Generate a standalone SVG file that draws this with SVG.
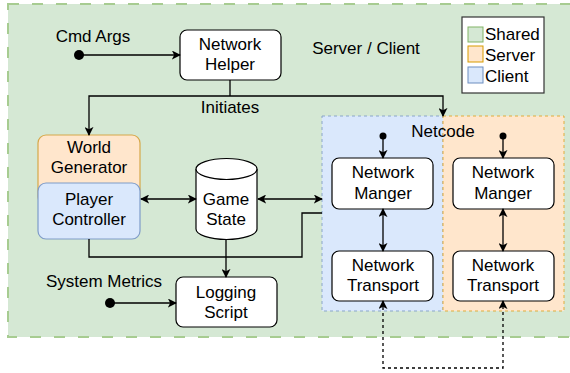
<svg xmlns="http://www.w3.org/2000/svg" width="570" height="373" viewBox="0 0 570 373">
<defs>
<marker id="arr" viewBox="0 0 10 10" refX="9" refY="5" markerWidth="9" markerHeight="9" markerUnits="userSpaceOnUse" orient="auto-start-reverse">
<path d="M0,0 L10,5 L0,10 L2.5,5 z" fill="#000"/>
</marker>
<style>
text{font-family:"Liberation Sans",Arial,sans-serif;font-size:17px;fill:#000;text-anchor:middle}
.box{fill:#fff;stroke:#000;stroke-width:1.2}
.ln{fill:none;stroke:#000;stroke-width:1.3}
.dot{fill:#000}
</style>
</defs>
<rect width="570" height="373" fill="#fff"/>
<g id="shared-area">
<rect x="8" y="4" width="570" height="333" fill="#d5e8d4" stroke="#a7cc91" stroke-width="2" stroke-dasharray="11 13"/>
<text x="366" y="54">Server / Client</text>
</g>
<g id="netcode">
<rect x="322" y="116" width="121" height="195" fill="#dae8fc" stroke="#8aa6c9" stroke-width="1" stroke-dasharray="3 3"/>
<rect x="443" y="116" width="121" height="195" fill="#ffe6cc" stroke="#e0ac3c" stroke-width="1" stroke-dasharray="3 3"/>
<text x="443" y="137">Netcode</text>
</g>
<g id="legend">
<rect x="462" y="17" width="82" height="76" fill="#fff" stroke="#333" stroke-width="1.2"/>
<rect x="468" y="27" width="15" height="15" fill="#d5e8d4" stroke="#82b366"/>
<rect x="468" y="46" width="15" height="16" fill="#ffe6cc" stroke="#d79b00"/>
<rect x="468" y="67" width="15" height="16" fill="#dae8fc" stroke="#6c8ebf"/>
<text x="485" y="40" style="text-anchor:start">Shared</text>
<text x="485" y="61" style="text-anchor:start">Server</text>
<text x="485" y="82" style="text-anchor:start">Client</text>
</g>
<g id="cmd-args">
<text x="93" y="42">Cmd Args</text>
<circle class="dot" cx="79" cy="55" r="5"/>
</g>
<g id="system-metrics">
<text x="104" y="287">System Metrics</text>
<circle class="dot" cx="110" cy="303" r="5"/>
</g>
<g id="network-helper">
<rect class="box" x="180" y="30" width="101" height="50" rx="7"/>
<text x="230" y="50">Network</text>
<text x="230" y="70">Helper</text>
</g>
<g id="world-generator">
<rect x="38" y="135" width="102" height="70" rx="8" fill="#ffe6cc" stroke="#d6a84a" stroke-width="1.2"/>
<text x="89" y="153">World</text>
<text x="89" y="173">Generator</text>
</g>
<g id="player-controller">
<rect x="38" y="183" width="102" height="56" rx="8" fill="#dae8fc" stroke="#7f9cc8" stroke-width="1.2"/>
<text x="89" y="205">Player</text>
<text x="89" y="225">Controller</text>
</g>
<g id="game-state">
<path class="box" d="M196,169 A30.5,10.5 0 0 1 257,169 L257,229 A30.5,10.5 0 0 1 196,229 Z"/>
<path class="box" d="M196,169 A30.5,10.5 0 0 0 257,169" fill="none"/>
<text x="226" y="205">Game</text>
<text x="226" y="225">State</text>
</g>
<g id="logging-script">
<rect class="box" x="176" y="277" width="101" height="50" rx="7"/>
<text x="226" y="298">Logging</text>
<text x="226" y="318">Script</text>
</g>
<g id="client-network-manger">
<rect class="box" x="332" y="158" width="101" height="51" rx="7"/>
<text x="383" y="178">Network</text>
<text x="383" y="199">Manger</text>
<circle class="dot" cx="383" cy="136" r="3.5"/>
</g>
<g id="server-network-manger">
<rect class="box" x="453" y="158" width="101" height="51" rx="7"/>
<text x="503" y="178">Network</text>
<text x="503" y="199">Manger</text>
<circle class="dot" cx="503" cy="136" r="3.5"/>
</g>
<g id="client-network-transport">
<rect class="box" x="332" y="251" width="101" height="50" rx="7"/>
<text x="383" y="271">Network</text>
<text x="383" y="291">Transport</text>
</g>
<g id="server-network-transport">
<rect class="box" x="453" y="251" width="101" height="50" rx="7"/>
<text x="503" y="271">Network</text>
<text x="503" y="291">Transport</text>
</g>
<g id="connectors">
<path class="ln" d="M79,55 L180,55" marker-end="url(#arr)"/>
<path class="ln" d="M230,80 L230,96"/>
<path class="ln" d="M230,96 L89,96 L89,135" marker-end="url(#arr)"/>
<path class="ln" d="M230,96 L443,96 L443,116" marker-end="url(#arr)"/>
<text x="230" y="113">Initiates</text>
<path class="ln" d="M141,199 L196,199" marker-start="url(#arr)" marker-end="url(#arr)"/>
<path class="ln" d="M258,199 L322,199" marker-start="url(#arr)" marker-end="url(#arr)"/>
<path class="ln" d="M89,239 L89,257 L302,257 L302,213 L322,213"/>
<path class="ln" d="M226,240 L226,277" marker-end="url(#arr)"/>
<path class="ln" d="M110,303 L176,303" marker-end="url(#arr)"/>
<path class="ln" d="M383,136 L383,158" marker-end="url(#arr)"/>
<path class="ln" d="M503,136 L503,158" marker-end="url(#arr)"/>
<path class="ln" d="M383,209 L383,251" marker-start="url(#arr)" marker-end="url(#arr)"/>
<path class="ln" d="M503,209 L503,251" marker-start="url(#arr)" marker-end="url(#arr)"/>
<path class="ln" d="M383,301 L383,368 L503,368 L503,301" stroke-dasharray="3 3" marker-start="url(#arr)" marker-end="url(#arr)"/>
</g>
</svg>
